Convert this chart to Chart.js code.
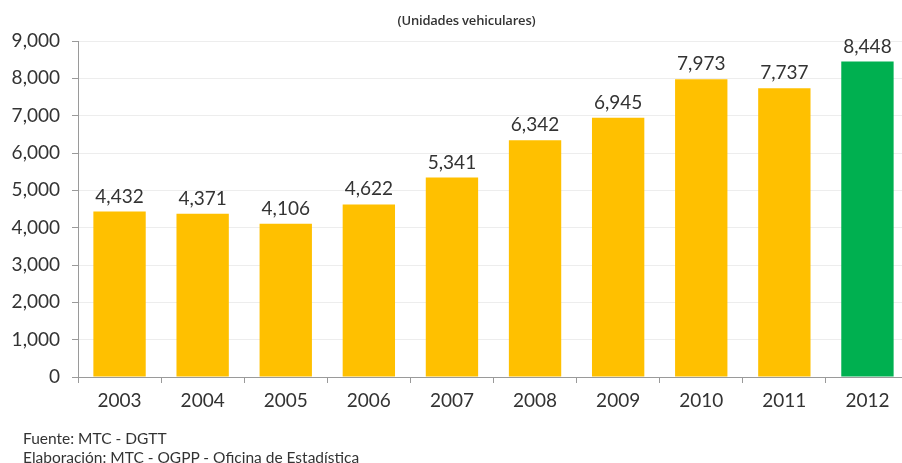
<!DOCTYPE html>
<html>
<head>
<meta charset="utf-8">
<script src="https://cdn.jsdelivr.net/npm/chart.js@4"></script>
<style>
  html, body { margin: 0; padding: 0; background: #fff; width: 902px; height: 463px; overflow: hidden; }
  #wrap { position: absolute; left: 0; top: 0; width: 912px; height: 463px; }
  #title { position: absolute; top: 11px; left: 0; width: 933px; text-align: center; font: 600 13px "Open Sans", sans-serif; letter-spacing: -0.2px; color: #333; }
  #foot { position: absolute; left: 23px; top: 429px; font: 15.5px Lato, sans-serif; color: #333; line-height: 19px; }
</style>
</head>
<body>
<div id="wrap"><canvas id="c" width="912" height="463"></canvas></div>
<div id="title">(Unidades vehiculares)</div>
<div id="foot">Fuente: MTC - DGTT<br>Elaboración: MTC - OGPP - Oficina de Estadística</div>
<script>
const categories = ["2003","2004","2005","2006","2007","2008","2009","2010","2011","2012"];
const values = [4432, 4371, 4106, 4622, 5341, 6342, 6945, 7973, 7737, 8448];
const barColors = ["#FFC000","#FFC000","#FFC000","#FFC000","#FFC000","#FFC000","#FFC000","#FFC000","#FFC000","#00B050"];
const yTicks = [0, 1000, 2000, 3000, 4000, 5000, 6000, 7000, 8000, 9000];

const fmt = v => v.toLocaleString('en-US');

const labelPlugin = {
  id: 'barLabels',
  afterDatasetsDraw(chart) {
    const ctx = chart.ctx;
    const meta = chart.getDatasetMeta(0);
    ctx.save();
    ctx.font = '19px Lato, sans-serif';
    ctx.fillStyle = '#333';
    ctx.textAlign = 'center';
    ctx.textBaseline = 'alphabetic';
    meta.data.forEach((bar, i) => {
      ctx.fillText(fmt(values[i]), bar.x, bar.y - 9);
    });
    ctx.restore();
  }
};

new Chart(document.getElementById('c'), {
  type: 'bar',
  data: {
    labels: categories,
    datasets: [{ data: values, backgroundColor: barColors, borderWidth: 0, categoryPercentage: 1, barPercentage: 0.63 }]
  },
  options: {
    responsive: false,
    animation: false,
    events: [],
    layout: { padding: { top: 41, right: 3, bottom: 0, left: 0 } },
    plugins: { legend: { display: false }, tooltip: { enabled: false }, title: { display: false } },
    scales: {
      x: {
        afterFit: s => { s.height = 86; },
        grid: { offset: true, drawOnChartArea: false, drawTicks: true, tickLength: 6, tickColor: '#9a9a9a' },
        border: { color: '#9a9a9a', width: 1 },
        ticks: { font: { family: 'Lato', size: 19 }, color: '#333', padding: 6 }
      },
      y: {
        min: 0, max: 9000,
        afterFit: s => { s.width = 78; },
        afterBuildTicks: s => { s.ticks = yTicks.map(v => ({ value: v })); },
        grid: { color: '#ededed', tickColor: '#9a9a9a', tickLength: 6, drawTicks: true },
        border: { color: '#9a9a9a', width: 1 },
        ticks: { font: { family: 'Lato', size: 19 }, color: '#333', padding: 12, callback: v => fmt(v) }
      }
    }
  },
  plugins: [labelPlugin]
});
</script>
</body>
</html>
